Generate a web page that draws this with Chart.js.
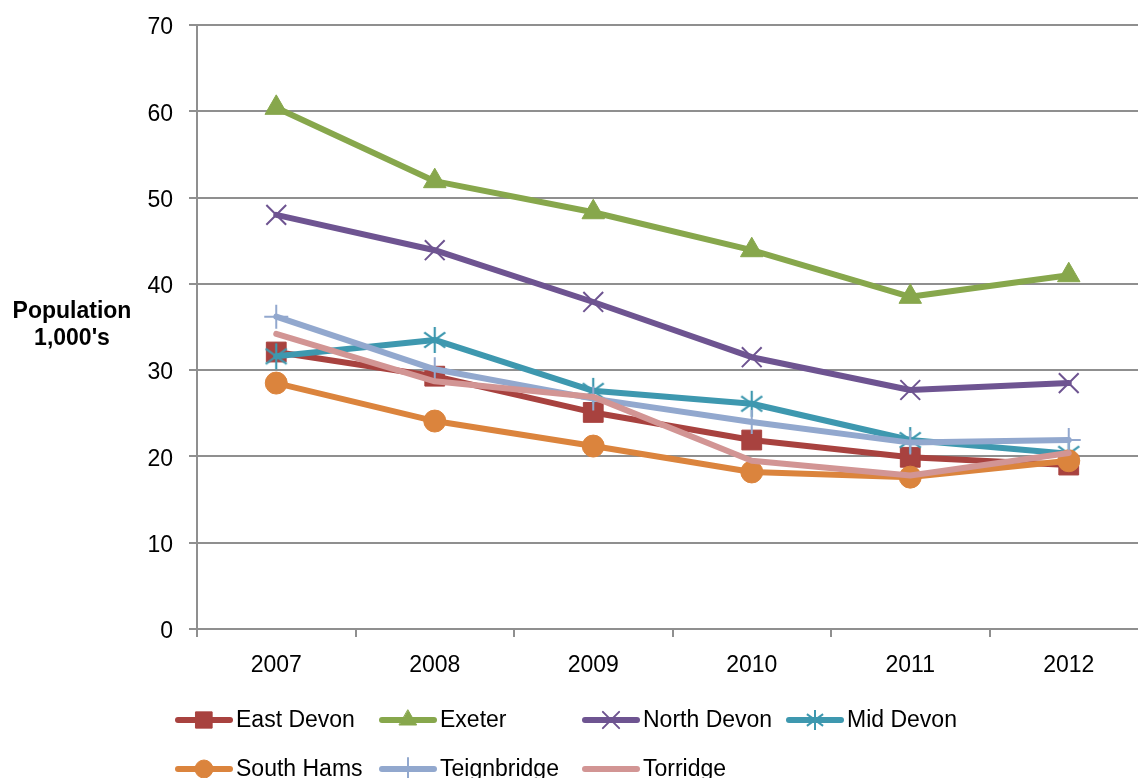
<!DOCTYPE html>
<html>
<head>
<meta charset="utf-8">
<title>Population 1,000's</title>
<script src="https://cdn.jsdelivr.net/npm/chart.js@4.4.1/dist/chart.umd.min.js"></script>
<style>
  html, body { margin: 0; padding: 0; background: #fff; overflow: hidden; }
  #wrap { width: 1150px; height: 778px; }
</style>
</head>
<body>
<div id="wrap"><canvas id="chart" width="1150" height="778"></canvas></div>
<script>
// population per district, thousands
const years = ['2007', '2008', '2009', '2010', '2011', '2012'];
const eastDevon = [32.1, 29.3, 25.1, 21.9, 19.9, 19.0];
const exeter = [60.4, 51.9, 48.3, 43.9, 38.5, 41.0];
const northDevon = [48.0, 43.9, 37.9, 31.5, 27.7, 28.5];
const midDevon = [31.6, 33.5, 27.6, 26.1, 21.9, 20.3];
const southHams = [28.5, 24.1, 21.2, 18.2, 17.6, 19.5];
const teignbridge = [36.2, 30.1, 26.7, 24.0, 21.6, 21.9];
const torridge = [34.2, 28.7, 26.9, 19.5, 17.8, 20.4];

const FONT = '"Liberation Sans", Arial, sans-serif';
const GRID = '#8f8f8f';

// asterisk marker: vertical stroke plus an X
function asterisk(size, color, lw) {
  const c = document.createElement('canvas');
  c.width = size; c.height = size;
  const g = c.getContext('2d');
  const m = size / 2, r = size / 2 - 1;
  g.strokeStyle = color;
  g.lineWidth = lw;
  g.beginPath();
  g.moveTo(m, m - r); g.lineTo(m, m + r);
  const d = r * Math.cos(Math.PI / 5), e = r * Math.sin(Math.PI / 5);
  g.moveTo(m - d, m - e); g.lineTo(m + d, m + e);
  g.moveTo(m - d, m + e); g.lineTo(m + d, m - e);
  g.stroke();
  return c;
}

function series(label, data, color, style, radius, thin) {
  return {
    label: label,
    data: data,
    borderColor: color,
    backgroundColor: color,
    borderWidth: 6,
    borderJoinStyle: 'round',
    borderCapStyle: 'round',
    pointStyle: style,
    pointRadius: radius,
    pointBackgroundColor: color,
    pointBorderColor: color,
    pointBorderWidth: thin ? 2 : 1,
    tension: 0,
    fill: false
  };
}

const datasets = [
  series('East Devon', eastDevon, '#A8423F', 'rect', 14),
  series('Exeter', exeter, '#87A74C', 'triangle', 13),
  series('North Devon', northDevon, '#6E5491', 'crossRot', 14, true),
  series('Mid Devon', midDevon, '#3E98AF', asterisk(28, '#3E98AF', 2.2), 14, true),
  series('South Hams', southHams, '#DB843D', 'circle', 11),
  series('Teignbridge', teignbridge, '#92A8CE', 'cross', 12, true),
  series('Torridge', torridge, '#D29594', 'circle', 0)
];
// later series sit on top of earlier ones
datasets.forEach((d, i) => { d.order = datasets.length - i; });

// legend marker look, a bit smaller than on the lines
const legendMarks = [
  { style: 'rect', r: 11.5 },
  { style: 'triangle', r: 10 },
  { style: 'crossRot', r: 11.5 },
  { style: asterisk(22, '#3E98AF', 2), r: 11 },
  { style: 'circle', r: 9 },
  { style: 'cross', r: 11 },
  { style: 'circle', r: 0 }
];
const legendSlots = [[176, 720], [380, 720], [583, 720], [787, 720], [176, 769], [380, 769], [583, 769]];

const extras = {
  id: 'extras',
  afterDraw(chart) {
    const ctx = chart.ctx;
    ctx.save();
    // y axis title, horizontal
    ctx.fillStyle = '#000';
    ctx.font = 'bold 23px ' + FONT;
    ctx.textAlign = 'center';
    ctx.textBaseline = 'middle';
    ctx.fillText('Population', 72, 312);
    ctx.fillText("1,000's", 72, 339);

    // legend
    ctx.font = '23px ' + FONT;
    ctx.textAlign = 'left';
    datasets.forEach((d, i) => {
      const [x, y] = legendSlots[i];
      ctx.strokeStyle = d.borderColor;
      ctx.lineWidth = 6;
      ctx.lineCap = 'round';
      ctx.beginPath();
      ctx.moveTo(x + 2, y);
      ctx.lineTo(x + 54, y);
      ctx.stroke();
      const mk = legendMarks[i];
      if (mk.r > 0) {
        ctx.fillStyle = d.borderColor;
        ctx.strokeStyle = d.borderColor;
        ctx.lineWidth = d.pointBorderWidth;
        Chart.helpers.drawPoint(ctx, { pointStyle: mk.style, radius: mk.r, rotation: 0, borderWidth: d.pointBorderWidth }, x + 28, y);
      }
      ctx.fillStyle = '#000';
      ctx.fillText(d.label, x + 60, y + 1);
    });
    ctx.restore();
  }
};

new Chart(document.getElementById('chart'), {
  type: 'line',
  data: { labels: years, datasets: datasets },
  options: {
    responsive: false,
    animation: false,
    layout: { autoPadding: false, padding: { top: 25, right: 2, left: 0, bottom: 0 } },
    plugins: { legend: { display: false }, tooltip: { enabled: false } },
    scales: {
      x: {
        offset: true,
        afterFit(scale) {
          scale.height = 149;
          scale.paddingLeft = 0;
          scale.paddingRight = 0;
        },
        grid: { display: true, drawOnChartArea: false, offset: true, tickLength: 8, color: GRID, lineWidth: 2 },
        border: { display: true, color: GRID, width: 2 },
        ticks: { color: '#000', padding: 15, font: { family: FONT, size: 23 } }
      },
      y: {
        min: 0,
        max: 70,
        afterFit(scale) {
          scale.width = 197;
          scale.paddingTop = 0;
          scale.paddingBottom = 0;
        },
        grid: { color: GRID, lineWidth: 2, tickLength: 8 },
        border: { display: true, color: GRID, width: 2 },
        ticks: { stepSize: 10, color: '#000', padding: 16, labelOffset: 3, font: { family: FONT, size: 23 } }
      }
    }
  },
  plugins: [extras]
});
</script>
</body>
</html>
